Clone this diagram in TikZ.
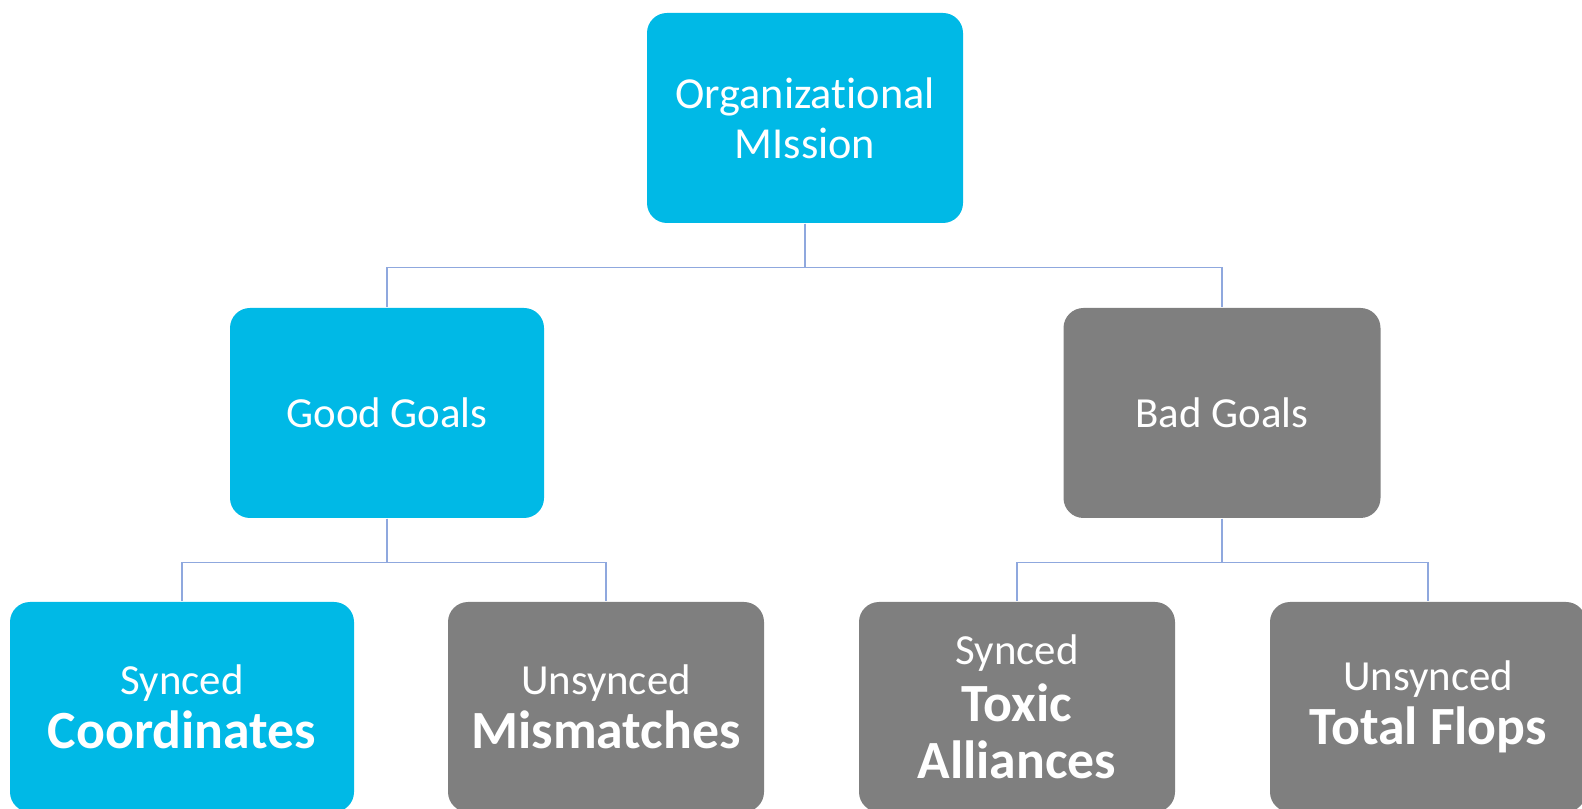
\documentclass[tikz,border=0pt]{standalone}
\usepackage{fontspec}
\setmainfont{Carlito}[Ligatures=NoCommon, Contextuals=NoAlternate]
\usepackage{xcolor}
\usepackage{tikz}
\usetikzlibrary{positioning}
\definecolor{skycyan}{RGB}{0,185,230}
\definecolor{slategrey}{RGB}{127,127,127}
\definecolor{linkblue}{RGB}{143,168,222}

\begin{document}
\begin{tikzpicture}[
  goalbox/.style={rounded corners=0.2cm, minimum width=3.16cm, minimum height=2.10cm,
    inner sep=0pt, align=center, text=white, font=\fontsize{12.2}{15.3}\selectfont},
  goodfill/.style={goalbox, fill=skycyan},
  badfill/.style={goalbox, fill=slategrey},
  link/.style={draw=linkblue, line width=0.45pt}
]
\useasboundingbox (0,0) rectangle (15.82,-8.09);
\clip (0,0) rectangle (15.82,-8.09);

% Mission at the top
\node[goodfill, font=\fontsize{12.6}{14.2}\selectfont] (mission) at (8.05,-1.18) {Organizational\\MIssion};

% Second level
\node[goodfill, minimum width=3.14cm] (good) at (3.87,-4.13) {Good Goals};
\node[badfill, minimum width=3.17cm] (bad) at (12.22,-4.13) {Bad Goals};

% Bottom level
\node[goodfill, minimum width=3.44cm] (coord) at (1.82,-7.07)
  {Synced\\{\bfseries\fontsize{15.3}{15}\selectfont Coordinates}};
\node[badfill] (mismatch) at (6.06,-7.07)
  {Unsynced\\{\bfseries\fontsize{15.3}{15}\selectfont Mismatches}};
\node[badfill, font=\fontsize{12.2}{16.2}\selectfont] (toxic) at (10.17,-7.07)
  {Synced\\{\bfseries\fontsize{15.3}{15}\selectfont Toxic}\\{\bfseries\fontsize{15.3}{15}\selectfont Alliances}};
\node[badfill] (flops) at (14.28,-7.07)
  {Unsynced\\{\bfseries\fontsize{15.3}{15}\selectfont Total Flops}};

% Connectors
\draw[link] (mission.south) -- ++(0,-0.44) -| (good.north);
\draw[link] (mission.south) -- ++(0,-0.44) -| (bad.north);
\draw[link] (good.south) -- ++(0,-0.44) -| (coord.north);
\draw[link] (good.south) -- ++(0,-0.44) -| (mismatch.north);
\draw[link] (bad.south) -- ++(0,-0.44) -| (toxic.north);
\draw[link] (bad.south) -- ++(0,-0.44) -| (flops.north);
\end{tikzpicture}
\end{document}
